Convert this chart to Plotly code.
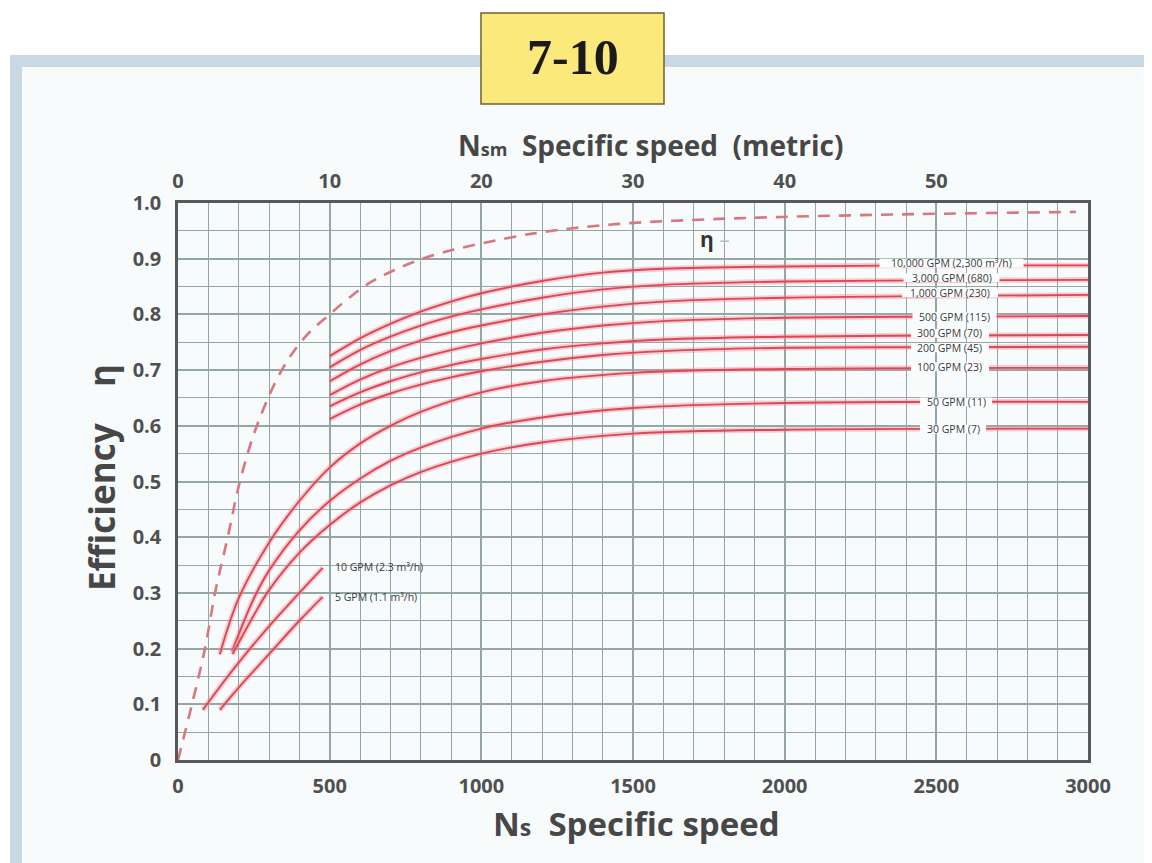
import plotly.graph_objects as go

# ---------------- data ----------------
ns_ticks = [0, 500, 1000, 1500, 2000, 2500, 3000]
nsm_ticks = [0, 10, 20, 30, 40, 50]
eff_ticks = [0, 0.1, 0.2, 0.3, 0.4, 0.5, 0.6, 0.7, 0.8, 0.9, 1.0]
eff_tick_labels = ["0", "0.1", "0.2", "0.3", "0.4", "0.5", "0.6", "0.7", "0.8", "0.9", "1.0"]

# maximum efficiency envelope (dashed)
eta_ns = [0, 46, 89, 122, 164, 204, 260, 342, 420, 500, 576, 642, 707, 786, 872,
          1168, 1444, 1717, 1990, 2431, 2960]
eta_val = [0, 0.10, 0.20, 0.30, 0.40, 0.50, 0.60, 0.70, 0.76, 0.80, 0.835,
           0.860, 0.878, 0.896, 0.911, 0.945, 0.962, 0.970, 0.975, 0.980, 0.984]

# upper family (start at Ns = 500)
up_ns = [500, 600, 700, 800, 900, 1000, 1200, 1400, 1600, 2000, 2500, 3000]
gpm_10000 = [0.725, 0.757, 0.783, 0.805, 0.823, 0.838, 0.860, 0.875, 0.882, 0.886, 0.888, 0.888]
gpm_3000 = [0.705, 0.736, 0.760, 0.780, 0.796, 0.809, 0.830, 0.845, 0.853, 0.859, 0.861, 0.862]
gpm_1000 = [0.680, 0.710, 0.734, 0.753, 0.768, 0.780, 0.800, 0.814, 0.823, 0.830, 0.833, 0.835]
gpm_500 = [0.655, 0.683, 0.705, 0.722, 0.736, 0.748, 0.767, 0.780, 0.788, 0.794, 0.796, 0.797]
gpm_300 = [0.635, 0.660, 0.680, 0.696, 0.709, 0.720, 0.737, 0.748, 0.755, 0.760, 0.762, 0.763]
gpm_200 = [0.612, 0.638, 0.658, 0.674, 0.687, 0.698, 0.715, 0.727, 0.734, 0.740, 0.741, 0.742]

# lower family (start at low Ns)
gpm_100_ns = [138, 200, 300, 400, 500, 600, 700, 800, 1000, 1200, 1500, 2000, 3000]
gpm_100 = [0.19, 0.29, 0.39, 0.465, 0.525, 0.568, 0.60, 0.625, 0.66, 0.68, 0.695, 0.702, 0.704]
gpm_50_ns = [178, 250, 300, 400, 500, 600, 700, 800, 1000, 1200, 1500, 2000, 3000]
gpm_50 = [0.195, 0.29, 0.34, 0.412, 0.465, 0.505, 0.537, 0.561, 0.595, 0.615, 0.632, 0.641, 0.643]
gpm_30_ns = [180, 250, 300, 400, 500, 600, 700, 800, 1000, 1200, 1500, 2000, 3000]
gpm_30 = [0.19, 0.26, 0.305, 0.372, 0.422, 0.462, 0.493, 0.517, 0.55, 0.57, 0.586, 0.593, 0.595]
gpm_10_ns = [82, 150, 200, 300, 400, 477]
gpm_10 = [0.09, 0.14, 0.175, 0.24, 0.30, 0.345]
gpm_5_ns = [138, 200, 300, 400, 477]
gpm_5 = [0.09, 0.13, 0.19, 0.25, 0.293]

right_labels = ["10,000 GPM (2,300 m³/h)", "3,000 GPM (680)", "1,000 GPM (230)", "500 GPM (115)",
                "300 GPM (70)", "200 GPM (45)", "100 GPM (23)", "50 GPM (11)", "30 GPM (7)"]
right_label_ns = [2550, 2550, 2545, 2560, 2545, 2545, 2545, 2565, 2555]
right_label_eff = [0.892, 0.866, 0.839, 0.796, 0.766, 0.740, 0.706, 0.643, 0.594]
low_labels = ["10 GPM (2.3 m³/h)", "5 GPM (1.1 m³/h)"]
low_label_ns = [510, 510]
low_label_eff = [0.347, 0.293]

# ---------------- geometry (screen pixels; page body adds an 8px offset) ----------------
OFF = 8
W, H = 1152 - OFF, 863 - OFF
L, R, T, B = 178, 1088, 203, 760   # plot area in screen pixels
XSPAN = 3000.0 / (R - L)           # Ns per pixel


def px(x):
    return (x - L) / (R - L)


def py(y):
    return (B - y) / (B - T)


RED = "#db4756"
HALO = "rgba(240,140,150,0.40)"
GRID = "#95a6a6"
TXT = "#474747"
PLOTBG = "#fcfefe"
FONT = "Open Sans"
LABEL_FONT = dict(family=FONT, size=10.5, color="#3a3a3a")

fig = go.Figure()

curves = [
    (up_ns, gpm_10000), (up_ns, gpm_3000), (up_ns, gpm_1000), (up_ns, gpm_500),
    (up_ns, gpm_300), (up_ns, gpm_200), (gpm_100_ns, gpm_100), (gpm_50_ns, gpm_50),
    (gpm_30_ns, gpm_30), (gpm_10_ns, gpm_10), (gpm_5_ns, gpm_5),
]
for xs, ys in curves:
    fig.add_trace(go.Scatter(x=xs, y=ys, mode="lines", line=dict(color=HALO, width=5.5, shape="spline", smoothing=1.0),
                             hoverinfo="skip", showlegend=False))
    fig.add_trace(go.Scatter(x=xs, y=ys, mode="lines", line=dict(color=RED, width=1.9, shape="spline", smoothing=1.0),
                             hoverinfo="skip", showlegend=False))

fig.add_trace(go.Scatter(x=eta_ns, y=eta_val, mode="lines",
                         line=dict(color="#d8777e", width=2.6, dash="12px,9px", shape="spline", smoothing=1.0),
                         hoverinfo="skip", showlegend=False))

# dummy trace for the metric axis
fig.add_trace(go.Scatter(x=nsm_ticks, y=[None] * len(nsm_ticks), xaxis="x2", mode="markers",
                         hoverinfo="skip", showlegend=False))

annotations = []
shapes = []
CHAR_W = 6.0  # approx px per character at the label font size
for txt, xv, yv in zip(right_labels, right_label_ns, right_label_eff):
    half = (len(txt) * CHAR_W / 2 + 3) * XSPAN
    shapes.append(dict(type="rect", xref="x", yref="y", x0=xv - half, x1=xv + half, y0=yv - 0.008, y1=yv + 0.008,
                       line=dict(width=0), fillcolor=PLOTBG, layer="above"))
    annotations.append(dict(x=xv, y=yv, xref="x", yref="y", text=txt, showarrow=False,
                            xanchor="center", yanchor="middle", font=LABEL_FONT))
for txt, xv, yv in zip(low_labels, low_label_ns, low_label_eff):
    annotations.append(dict(x=xv, y=yv, xref="x", yref="y", text=txt, showarrow=False, xanchor="left",
                            yanchor="middle", font=LABEL_FONT))

# eta label
annotations.append(dict(x=1715, y=0.935, xref="x", yref="y", text="<b>η</b> <span style='color:#bbbbbb'>–</span>",
                        showarrow=False, xanchor="left", yanchor="middle",
                        font=dict(family=FONT, size=21, color="#333333")))

# axis titles
annotations.append(dict(x=px(650), y=py(145), xref="paper", yref="paper", xanchor="center", yanchor="middle",
                        text="<b>N<span style='font-size:18px'>sm</span>  Specific speed  (metric)</b>",
                        showarrow=False, font=dict(family=FONT, size=28, color=TXT)))
annotations.append(dict(x=px(636), y=py(823), xref="paper", yref="paper", xanchor="center", yanchor="middle",
                        text="<b>N<span style='font-size:23px'>s</span>  Specific speed</b>",
                        showarrow=False, font=dict(family=FONT, size=33, color=TXT)))
annotations.append(dict(x=px(101), y=py(478), xref="paper", yref="paper", textangle=-90,
                        xanchor="center", yanchor="middle",
                        text="<b>Efficiency    η</b>", showarrow=False, font=dict(family=FONT, size=35, color=TXT)))
# figure number
annotations.append(dict(x=px(573), y=py(57), xref="paper", yref="paper", xanchor="center", yanchor="middle",
                        text="<b>7-10</b>", showarrow=False,
                        font=dict(family="Liberation Serif", size=50, color="#1a1a1a")))

shapes += [
    # inner very light background of the frame
    dict(type="rect", xref="paper", yref="paper", x0=px(16), x1=px(1160), y0=py(61), y1=py(875),
         line=dict(width=0), fillcolor="#f7fbfc", layer="below"),
    # light blue frame
    dict(type="rect", xref="paper", yref="paper", x0=px(16), x1=px(1160), y0=py(61), y1=py(875),
         line=dict(color="#c8d9e4", width=12), fillcolor="rgba(0,0,0,0)", layer="below"),
    # yellow box
    dict(type="rect", xref="paper", yref="paper", x0=px(481), x1=px(664), y0=py(13), y1=py(104),
         line=dict(color="#6f6230", width=1.5), fillcolor="#fbe97c", layer="above"),
]

axis_font = dict(family=FONT, size=20, color="#505050")

fig.update_layout(
    width=W, height=H,
    margin=dict(l=L - OFF, r=W - (R - OFF), t=T - OFF, b=H - (B - OFF), autoexpand=False),
    paper_bgcolor="white",
    plot_bgcolor=PLOTBG,
    showlegend=False,
    annotations=annotations,
    shapes=shapes,
    xaxis=dict(range=[0, 3000], tickvals=ns_ticks, ticktext=[f"<b>{v}</b>" for v in ns_ticks],
               tickfont=axis_font, showgrid=True, gridcolor=GRID, gridwidth=1.5,
               minor=dict(dtick=100, showgrid=True, gridcolor=GRID, gridwidth=1.3),
               showline=True, linecolor="#585858", linewidth=2.5, mirror=True, ticks="",
               zeroline=False, ticklabelstandoff=6),
    xaxis2=dict(range=[0, 60], overlaying="x", side="top", tickvals=nsm_ticks,
                ticktext=[f"<b>{v}</b>" for v in nsm_ticks], tickfont=axis_font, showgrid=False,
                ticks="", zeroline=False, showline=False, ticklabelstandoff=10),
    yaxis=dict(range=[0, 1.0], tickvals=eff_ticks, ticktext=[f"<b>{v}</b>" for v in eff_tick_labels],
               tickfont=axis_font, showgrid=True, gridcolor=GRID, gridwidth=1.5,
               minor=dict(dtick=0.05, showgrid=True, gridcolor=GRID, gridwidth=1.3),
               showline=True, linecolor="#585858", linewidth=2.5, mirror=True, ticks="",
               zeroline=False, ticklabelstandoff=10),
)

fig.write_html("out.html")
